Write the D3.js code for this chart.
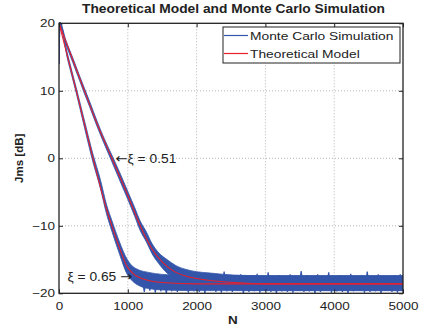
<!DOCTYPE html>
<html><head><meta charset="utf-8">
<script src="https://cdn.jsdelivr.net/npm/d3@7"></script>
<style>
html,body{margin:0;padding:0;background:#fff;}
text{font-family:"Liberation Sans",Arial,Helvetica,sans-serif;fill:#222;}
</style></head>
<body><svg id="c" width="422" height="329"></svg>
<script>
// ---------- data ----------
const xTicks = [0, 1000, 2000, 3000, 4000, 5000];
const yTicks = [-20, -10, 0, 10, 20];
const seriesNames = ["Monte Carlo Simulation", "Theoretical Model"];

// theoretical model, xi = 0.51
const th51N = [0, 200, 369, 550, 768, 1000, 1180, 1350, 1570, 1700, 1861, 2000, 2200, 2540, 3000, 4000, 5000];
const th51J = [20, 14.6, 10, 5.2, 0, -5.5, -10, -13.4, -16.0, -16.9, -17.5, -17.8, -18.1, -18.4, -18.6, -18.6, -18.6];
// theoretical model, xi = 0.65
const th65N = [0, 252, 355, 494, 695, 768, 880, 987, 1070, 1152, 1300, 1500, 2000, 3000, 5000];
const th65J = [20, 10, 5.7, 0, -7.7, -10, -13.3, -16.0, -17.0, -17.6, -18.1, -18.4, -18.6, -18.6, -18.6];

// Monte Carlo envelope (N, low, high), xi = 0.51
const mc51N  = [0, 15, 100, 200, 300, 369, 450, 550, 650, 768, 900, 1000, 1100, 1180, 1270, 1350, 1450, 1570, 1700, 1861, 2000, 2200, 2540, 3000, 5000];
const mc51Lo = [14.0, 19.5, 16.9, 14.2, 11.5, 9.6, 7.5, 4.8, 2.3, -0.5, -3.7, -6.1, -8.6, -10.7, -12.4, -14.1, -15.6, -17.0, -17.8, -18.5, -18.9, -19.2, -19.5, -19.6, -19.6];
const mc51Hi = [20.3, 20.2, 17.5, 14.9, 12.2, 10.4, 8.3, 5.6, 3.1, 0.5, -2.5, -4.9, -7.3, -9.3, -10.9, -12.6, -14.0, -15.0, -15.9, -16.5, -16.8, -17.0, -17.3, -17.4, -17.4];
// Monte Carlo envelope (N, low, high), xi = 0.65
const mc65N  = [0, 15, 126, 252, 355, 494, 600, 695, 768, 880, 987, 1070, 1152, 1300, 1500, 2000, 5000];
const mc65Lo = [14.0, 19.4, 14.6, 9.6, 5.2, -0.6, -4.4, -8.4, -10.8, -14.2, -17.1, -18.2, -18.8, -19.3, -19.5, -19.6, -19.6];
const mc65Hi = [20.3, 20.2, 15.4, 10.4, 6.2, 0.6, -3.1, -7.0, -9.2, -12.4, -14.9, -16.0, -16.5, -16.9, -17.2, -17.4, -17.4];

// steady-state Monte Carlo fluctuation (peaks and dips), from N = 1200 every 40 samples
const noiseStart = 1200, noiseStep = 40;
const noiseHi = [-17.4,-17.2,-17.5,-17.1,-17.6,-17.3,-16.9,-17.4,-17.5,-17.2,-17.6,-17.0,-17.4,-17.3,-17.5,-16.8,-17.4,-17.6,-17.2,-17.3,-17.5,-17.1,-17.4,-16.9,-17.5,-17.3,-17.6,-17.2,-17.4,-16.7,-17.3,-17.5,-17.2,-17.4,-16.9,-17.5,-17.3,-17.6,-17.1,-17.4,-17.3,-16.8,-17.5,-17.2,-17.4,-17.6,-17.3,-17.2];
const noiseLo = [-19.8,-19.6,-19.9,-19.7,-20.0,-19.7,-19.8,-19.5,-19.9,-19.7,-19.8,-20.0,-19.6,-19.8,-19.9,-19.7,-19.8,-19.6,-20.0,-19.8,-19.7,-19.9,-19.6,-19.8,-20.0,-19.7,-19.8,-19.9,-19.6,-19.8,-19.7,-20.0,-19.8,-19.6,-19.9,-19.7,-19.8,-20.0,-19.7,-19.6,-19.9,-19.8,-19.7,-20.0,-19.6,-19.8,-19.9,-19.7];

const annotations = [
  {arrow: "\u2190", label: "\u03BE = 0.51", n: 820, j: 0, anchor: "start", arrowFirst: true},
  {arrow: "\u2192", label: "\u03BE = 0.65 ", n: 1065, j: -17.5, anchor: "end", arrowFirst: false}
];

// ---------- chart ----------
const W = 422, H = 329;
const L = 59, R = 403, T = 23.3, B = 293.3;
const blue = "#3355aa", red = "#e8202c";
const STRETCH = 1.17;
const svg = d3.select("#c");
svg.append("rect").attr("width", W).attr("height", H).attr("fill", "#fff");

function stretch(sel, f) {
  sel.each(function () {
    const w = this.getComputedTextLength();
    d3.select(this).attr("textLength", w * f).attr("lengthAdjust", "spacingAndGlyphs");
  });
}

const x = d3.scaleLinear().domain([0, 5000]).range([L, R]);
const y = d3.scaleLinear().domain([-20, 20]).range([B, T]);

// grid
const g = svg.append("g");
g.selectAll("line.gx").data(xTicks.slice(1, -1)).join("line")
  .attr("x1", d => x(d)).attr("x2", d => x(d)).attr("y1", T).attr("y2", B)
  .attr("stroke", "#b4b4b4").attr("stroke-width", 1).attr("stroke-dasharray", "1,2");
g.selectAll("line.gy").data(yTicks.slice(1, -1)).join("line")
  .attr("y1", d => y(d)).attr("y2", d => y(d)).attr("x1", L).attr("x2", R)
  .attr("stroke", "#b4b4b4").attr("stroke-width", 1).attr("stroke-dasharray", "1,2");

svg.append("clipPath").attr("id", "pc").append("rect")
  .attr("x", L).attr("y", T - 1).attr("width", R - L).attr("height", B - T + 1);
const plot = svg.append("g").attr("clip-path", "url(#pc)");

const area = d3.area().x(d => x(d[0])).y0(d => y(d[1])).y1(d => y(d[2])).curve(d3.curveMonotoneX);
const band51 = mc51N.map((n, i) => [n, mc51Lo[i], mc51Hi[i]]);
const band65 = mc65N.map((n, i) => [n, mc65Lo[i], mc65Hi[i]]);
[band51, band65].forEach(b => {
  plot.append("path").datum(b).attr("d", area).attr("fill", blue)
    .attr("stroke", blue).attr("stroke-width", 0.8);
});
const noisePts = [];
noiseHi.forEach((h, i) => {
  noisePts.push([noiseStart + 2 * i * noiseStep, h]);
  noisePts.push([noiseStart + (2 * i + 1) * noiseStep, noiseLo[i]]);
});
plot.append("path").datum(noisePts)
  .attr("d", d3.line().x(d => x(d[0])).y(d => y(d[1])))
  .attr("fill", "none").attr("stroke", blue).attr("stroke-width", 1.2);

const line = d3.line().x(d => x(d[0])).y(d => y(d[1])).curve(d3.curveMonotoneX);
[[th51N, th51J], [th65N, th65J]].forEach(([ns, js]) => {
  plot.append("path").datum(ns.map((n, i) => [n, js[i]])).attr("d", line)
    .attr("fill", "none").attr("stroke", red).attr("stroke-width", 1.1);
});

// axes
const fmt = d3.format("");
const ax = svg.append("g").attr("transform", `translate(0,${B})`)
  .call(d3.axisBottom(x).tickValues(xTicks).tickSizeInner(-4).tickSizeOuter(0).tickPadding(9).tickFormat(fmt));
const ay = svg.append("g").attr("transform", `translate(${L},0)`)
  .call(d3.axisLeft(y).tickValues(yTicks).tickSizeInner(-4).tickSizeOuter(0).tickPadding(4).tickFormat(fmt));
const axT = svg.append("g").attr("transform", `translate(0,${T})`)
  .call(d3.axisTop(x).tickValues(xTicks).tickSizeInner(-4).tickSizeOuter(0).tickFormat(""));
const ayR = svg.append("g").attr("transform", `translate(${R},0)`)
  .call(d3.axisRight(y).tickValues(yTicks).tickSizeInner(-4).tickSizeOuter(0).tickFormat(""));
[ax, ay, axT, ayR].forEach(a => {
  a.select(".domain").remove();
  a.selectAll("line").attr("stroke", "#222");
  a.selectAll("text").attr("font-size", 11.5).attr("fill", "#222")
    .attr("font-family", '"Liberation Sans",Arial,Helvetica,sans-serif');
});
stretch(ax.selectAll("text"), STRETCH);
stretch(ay.selectAll("text"), STRETCH);
svg.append("rect").attr("x", L).attr("y", T).attr("width", R - L).attr("height", B - T)
  .attr("fill", "none").attr("stroke", "#222").attr("stroke-width", 1.3);

// titles
const title = svg.append("text").attr("x", 233.5).attr("y", 12.5).attr("text-anchor", "middle")
  .attr("font-size", 12.3).attr("font-weight", "bold").text("Theoretical Model and Monte Carlo Simulation");
title.attr("textLength", 303).attr("lengthAdjust", "spacingAndGlyphs");
const xl = svg.append("text").attr("x", 233).attr("y", 323.5).attr("text-anchor", "middle")
  .attr("font-size", 11.5).attr("font-weight", "bold").text("N");
stretch(xl, STRETCH);
svg.append("text").attr("transform", `translate(23,${(T + B) / 2}) rotate(-90)`).attr("text-anchor", "middle")
  .attr("font-size", 11.5).attr("font-weight", "bold").text("Jms [dB]");

// annotations
annotations.forEach(a => {
  const t = svg.append("text").attr("x", x(a.n)).attr("y", y(a.j)).attr("dy", "0.36em")
    .attr("text-anchor", a.anchor).attr("font-size", 12.3);
  const addArrow = () => t.append("tspan").attr("font-family", '"DejaVu Sans"').attr("font-size", 13).text(a.arrow);
  if (a.arrowFirst) addArrow();
  t.append("tspan").text(a.label);
  if (!a.arrowFirst) addArrow();
  stretch(t, 1.12);
});

// legend
const lg = svg.append("g");
lg.append("rect").attr("x", 223).attr("y", 27).attr("width", 177).attr("height", 36)
  .attr("fill", "#fff").attr("stroke", "#222").attr("stroke-width", 1);
[blue, red].forEach((c, i) => {
  const yy = 35.5 + i * 18;
  lg.append("line").attr("x1", 224).attr("x2", 248).attr("y1", yy).attr("y2", yy)
    .attr("stroke", c).attr("stroke-width", 1.2);
  const t = lg.append("text").attr("x", 250).attr("y", yy).attr("dy", "0.36em")
    .attr("font-size", 11.8).text(seriesNames[i]);
  stretch(t, STRETCH);
});
</script></body></html>
